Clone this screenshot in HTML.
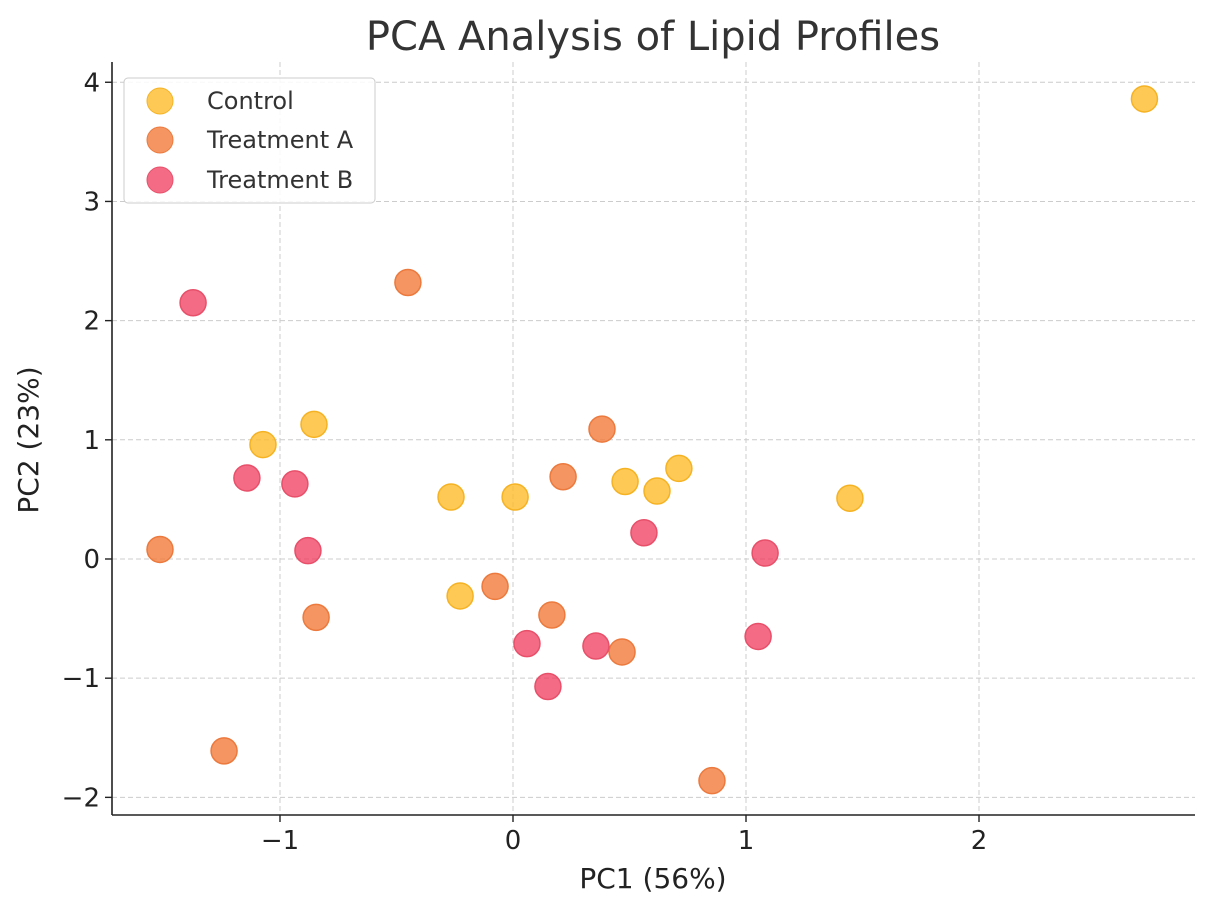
<!DOCTYPE html>
<html><head><meta charset="utf-8"><style>
body{margin:0;background:#fff}
svg{display:block;font-family:"DejaVu Sans","Liberation Sans",sans-serif}
</style></head><body>
<svg id="chart" width="1214" height="905">
<text x="653" y="50" font-size="40" text-anchor="middle" fill="#333">PCA Analysis of Lipid Profiles</text>
<g id="grid"></g><g id="ticks"></g><g id="points"></g>
<line x1="112" y1="62" x2="112" y2="815" stroke="#222" stroke-width="1.6"/>
<line x1="112" y1="815" x2="1195" y2="815" stroke="#222" stroke-width="1.6"/>
<text x="653" y="888" font-size="28" text-anchor="middle" fill="#222">PC1 (56%)</text>
<text transform="translate(38,440) rotate(-90)" font-size="28" text-anchor="middle" fill="#222">PC2 (23%)</text>
<g>
<rect x="124" y="78" width="251" height="125" rx="4" fill="#fff" fill-opacity="0.85" stroke="#ccc"/>
<g><circle cx="160" cy="101" r="13" fill="#FFBC2A" fill-opacity="0.8" stroke="#F5B324"/><text x="207" y="109" font-size="24" fill="#333">Control</text></g>
<g><circle cx="160" cy="140" r="13" fill="#F27A3A" fill-opacity="0.8" stroke="#EC7A3E"/><text x="207" y="148" font-size="24" fill="#333">Treatment A</text></g>
<g><circle cx="160" cy="180" r="13" fill="#F03A5C" fill-opacity="0.75" stroke="#E8506A"/><text x="207" y="188" font-size="24" fill="#333">Treatment B</text></g>
</g>
</svg>
<script>
const xTicks=[-1,0,1,2];
const yTicks=[-2,-1,0,1,2,3,4];
const controlX=[2.71,-0.854,-1.073,-0.266,0.009,0.481,0.618,0.712,1.446,-0.227];
const controlY=[3.86,1.13,0.96,0.52,0.52,0.65,0.57,0.76,0.51,-0.31];
const treatAX=[-0.451,0.382,0.215,-1.515,-0.077,0.167,-0.845,0.468,-1.240,0.854];
const treatAY=[2.32,1.09,0.69,0.08,-0.23,-0.47,-0.49,-0.78,-1.61,-1.86];
const treatBX=[-1.373,-1.142,-0.936,-0.880,0.562,1.082,0.060,0.356,1.052,0.150];
const treatBY=[2.15,0.68,0.63,0.07,0.22,0.05,-0.71,-0.73,-0.65,-1.07];
const X0=112,X1=1195,Y0=62,Y1=815,xmin=-1.721,xmax=2.927,ymin=-2.148,ymax=4.17;
const sx=v=>X0+(v-xmin)/(xmax-xmin)*(X1-X0);
const sy=v=>Y1-(v-ymin)/(ymax-ymin)*(Y1-Y0);
const NS="http://www.w3.org/2000/svg";
const grid=document.getElementById('grid'),ticks=document.getElementById('ticks'),pts=document.getElementById('points');
function mk(tag,attrs,parent){const e=document.createElementNS(NS,tag);for(const k in attrs)e.setAttribute(k,attrs[k]);parent.appendChild(e);return e;}
const lab=v=>v<0?'\u2212'+Math.abs(v):''+v;
xTicks.forEach(v=>{const x=sx(v);
 const g=mk('line',{x1:x,x2:x,y1:Y0,y2:Y1,stroke:'#ccc','stroke-dasharray':'5,3'},grid);
 
 
 mk('line',{x1:x,x2:x,y1:Y1,y2:Y1+7,stroke:'#222','stroke-width':1.4},ticks);
 const t=mk('text',{x:x,y:Y1+34,'font-size':26,'text-anchor':'middle',fill:'#222'},ticks);t.textContent=lab(v);
 
 
});
yTicks.forEach(v=>{const y=sy(v);
 const g=mk('line',{x1:X0,x2:X1,y1:y,y2:y,stroke:'#ccc','stroke-dasharray':'5,3'},grid);
 
 
 mk('line',{x1:X0-7,x2:X0,y1:y,y2:y,stroke:'#222','stroke-width':1.4},ticks);
 const t=mk('text',{x:X0-12,y:y+9,'font-size':26,'text-anchor':'end',fill:'#222'},ticks);t.textContent=lab(v);
 
 
});
function series(xs,ys,fill,stroke,op,name){xs.forEach((v,i)=>{
 const c=mk('circle',{cx:sx(v),cy:sy(ys[i]),r:13,fill:fill,'fill-opacity':op,stroke:stroke,'stroke-width':1.5},pts);
 
 
});}
series(controlX,controlY,'#FFBC2A','#F5B324',0.8,'control-point');
series(treatAX,treatAY,'#F27A3A','#EC7A3E',0.8,'treatment-a-point');
series(treatBX,treatBY,'#F03A5C','#E8506A',0.75,'treatment-b-point');
</script>
</body></html>
